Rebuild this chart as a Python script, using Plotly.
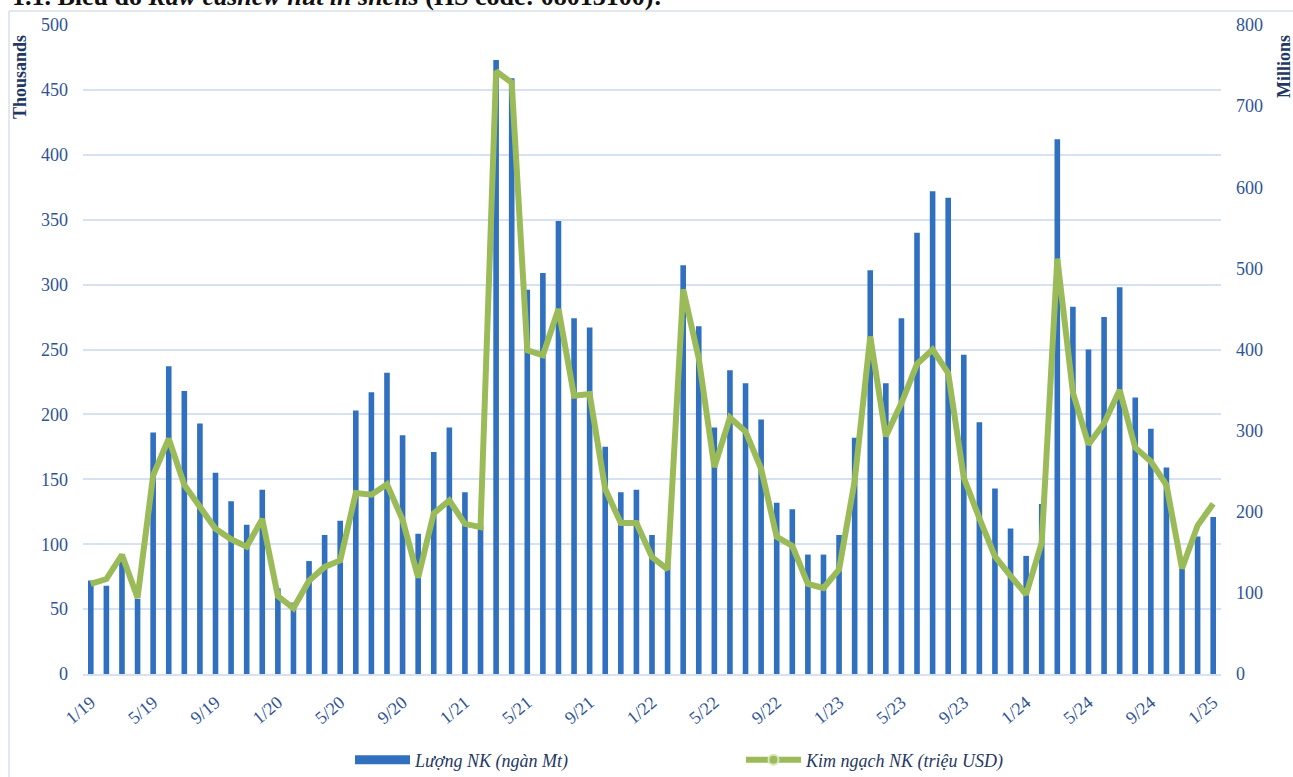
import plotly.graph_objects as go

months = [
    "1/19", "2/19", "3/19", "4/19", "5/19", "6/19", "7/19", "8/19", "9/19", "10/19", "11/19", "12/19",
    "1/20", "2/20", "3/20", "4/20", "5/20", "6/20", "7/20", "8/20", "9/20", "10/20", "11/20", "12/20",
    "1/21", "2/21", "3/21", "4/21", "5/21", "6/21", "7/21", "8/21", "9/21", "10/21", "11/21", "12/21",
    "1/22", "2/22", "3/22", "4/22", "5/22", "6/22", "7/22", "8/22", "9/22", "10/22", "11/22", "12/22",
    "1/23", "2/23", "3/23", "4/23", "5/23", "6/23", "7/23", "8/23", "9/23", "10/23", "11/23", "12/23",
    "1/24", "2/24", "3/24", "4/24", "5/24", "6/24", "7/24", "8/24", "9/24", "10/24", "11/24", "12/24",
    "1/25",
]

volume_k_tons = [
    72, 68, 88, 58, 186, 237, 218, 193, 155, 133, 115, 142,
    66, 55, 87, 107, 118, 203, 217, 232, 184, 108, 171, 190,
    140, 115, 473, 459, 296, 309, 349, 274, 267, 175, 140, 142,
    107, 82, 315, 268, 190, 234, 224, 196, 132, 127, 92, 92,
    107, 182, 311, 224, 274, 340, 372, 367, 246, 194, 143, 112,
    91, 131, 412, 283, 250, 275, 298, 213, 189, 159, 85, 106,
    121,
]

value_musd = [
    111, 117, 147, 94, 245, 290, 233, 206, 179, 166, 157, 191,
    96, 81, 115, 132, 140, 223, 221, 234, 190, 119, 198, 214,
    185, 181, 743, 729, 399, 393, 450, 343, 345, 228, 186, 186,
    144, 129, 474, 389, 255, 316, 299, 253, 169, 158, 111, 106,
    129, 238, 416, 293, 334, 382, 400, 371, 242, 192, 145, 121,
    98, 162, 512, 347, 283, 309, 350, 279, 262, 233, 130, 183,
    210,
]

tick_labels = months[::4]
left_ticks = [0, 50, 100, 150, 200, 250, 300, 350, 400, 450, 500]
right_ticks = [0, 100, 200, 300, 400, 500, 600, 700, 800]

name_bar = "Lượng NK (ngàn Mt)"
name_line = "Kim ngạch NK (triệu USD)"

FONT = "Liberation Serif"
TICK_COLOR = "#2F5496"
TITLE_COLOR = "#1F3864"
BAR_COLOR = "#3070BE"
LINE_COLOR = "#9BBB59"
GRID_COLOR = "#D6E1F2"

fig = go.Figure()

fig.add_trace(go.Bar(
    x=months, y=volume_k_tons, name=name_bar, width=0.36,
    marker=dict(color=BAR_COLOR, line=dict(width=0)),
    showlegend=False, yaxis="y",
))
fig.add_trace(go.Scatter(
    x=months, y=value_musd, name=name_line, mode="lines",
    line=dict(color=LINE_COLOR, width=6, shape="linear"),
    showlegend=False, yaxis="y2",
))
# legend entries (symbols styled like the reference legend)
fig.add_trace(go.Scatter(
    x=[None], y=[None], name=name_bar, mode="lines",
    line=dict(color=BAR_COLOR, width=9), yaxis="y",
))
fig.add_trace(go.Scatter(
    x=[None], y=[None], name=name_line, mode="lines+markers",
    line=dict(color=LINE_COLOR, width=6),
    marker=dict(color=LINE_COLOR, size=10, line=dict(color="#D8E6BE", width=2)),
    yaxis="y2",
))

PL, PR, PT, PB = 83, 72, 25, 103
W, H = 1293, 777
pw = W - PL - PR
ph = H - PT - PB

def px_x(px):
    return (px - PL) / pw

def px_y(py):
    return (H - PB - py) / ph

fig.update_layout(
    width=W, height=H,
    margin=dict(l=PL, r=PR, t=PT, b=PB, autoexpand=False),
    paper_bgcolor="white", plot_bgcolor="white",
    font=dict(family=FONT, color=TICK_COLOR, size=18),
    xaxis=dict(
        type="category", categoryorder="array", categoryarray=months,
        tickmode="array", tickvals=tick_labels, ticktext=tick_labels,
        tickangle=-40, showgrid=False, showline=True, linecolor=GRID_COLOR,
        linewidth=2, ticks="", tickfont=dict(family=FONT, size=18, color=TICK_COLOR),
        range=[-0.5, len(months) - 0.5], zeroline=False, ticklabelstandoff=9,
    ),
    yaxis=dict(
        range=[0, 500], tickvals=left_ticks, showgrid=True, gridcolor=GRID_COLOR,
        gridwidth=1.5, zeroline=False, showline=False, ticks="",
        tickfont=dict(family=FONT, size=18, color=TICK_COLOR), ticklabelstandoff=14,
    ),
    yaxis2=dict(
        range=[0, 800], tickvals=right_ticks, overlaying="y", side="right",
        showgrid=False, zeroline=False, showline=False, ticks="",
        tickfont=dict(family=FONT, size=18, color=TICK_COLOR), ticklabelstandoff=14,
    ),
    legend=dict(
        orientation="h", x=px_x(350), xanchor="left", y=px_y(760), yanchor="middle",
        font=dict(family=FONT, size=18, color=TITLE_COLOR, style="italic"),
        itemwidth=55, entrywidth=321, bgcolor="rgba(0,0,0,0)", tracegroupgap=0,
    ),
    annotations=[
        dict(text="<b>Thousands</b>", textangle=-90, xref="paper", yref="paper",
             x=px_x(20), y=px_y(77), xanchor="center", yanchor="middle", showarrow=False,
             font=dict(family=FONT, size=18, color=TITLE_COLOR)),
        dict(text="<b>Millions</b>", textangle=-90, xref="paper", yref="paper",
             x=px_x(1284), y=px_y(67), xanchor="center", yanchor="middle", showarrow=False,
             font=dict(family=FONT, size=18, color=TITLE_COLOR)),
        dict(text="<b>1.1. Biểu đồ <i>Raw cashew nut in shells</i> (HS code: 08013100):</b>",
             xref="paper", yref="paper", x=px_x(10), xanchor="left",
             y=px_y(-4), yanchor="middle", showarrow=False,
             font=dict(family=FONT, size=26, color="#111111")),
    ],
    shapes=[
        dict(type="line", xref="paper", yref="paper",
             x0=px_x(9), x1=px_x(1400), y0=px_y(11), y1=px_y(11),
             line=dict(color="#D9E0EA", width=1.5)),
        dict(type="line", xref="paper", yref="paper",
             x0=px_x(9), x1=px_x(9), y0=px_y(11), y1=px_y(900),
             line=dict(color="#D9E0EA", width=1.5)),
    ],
)

fig.write_html(
    "out.html",
    config={"displayModeBar": False},
    post_script="document.body.style.margin='0';document.body.style.overflow='hidden';",
)
